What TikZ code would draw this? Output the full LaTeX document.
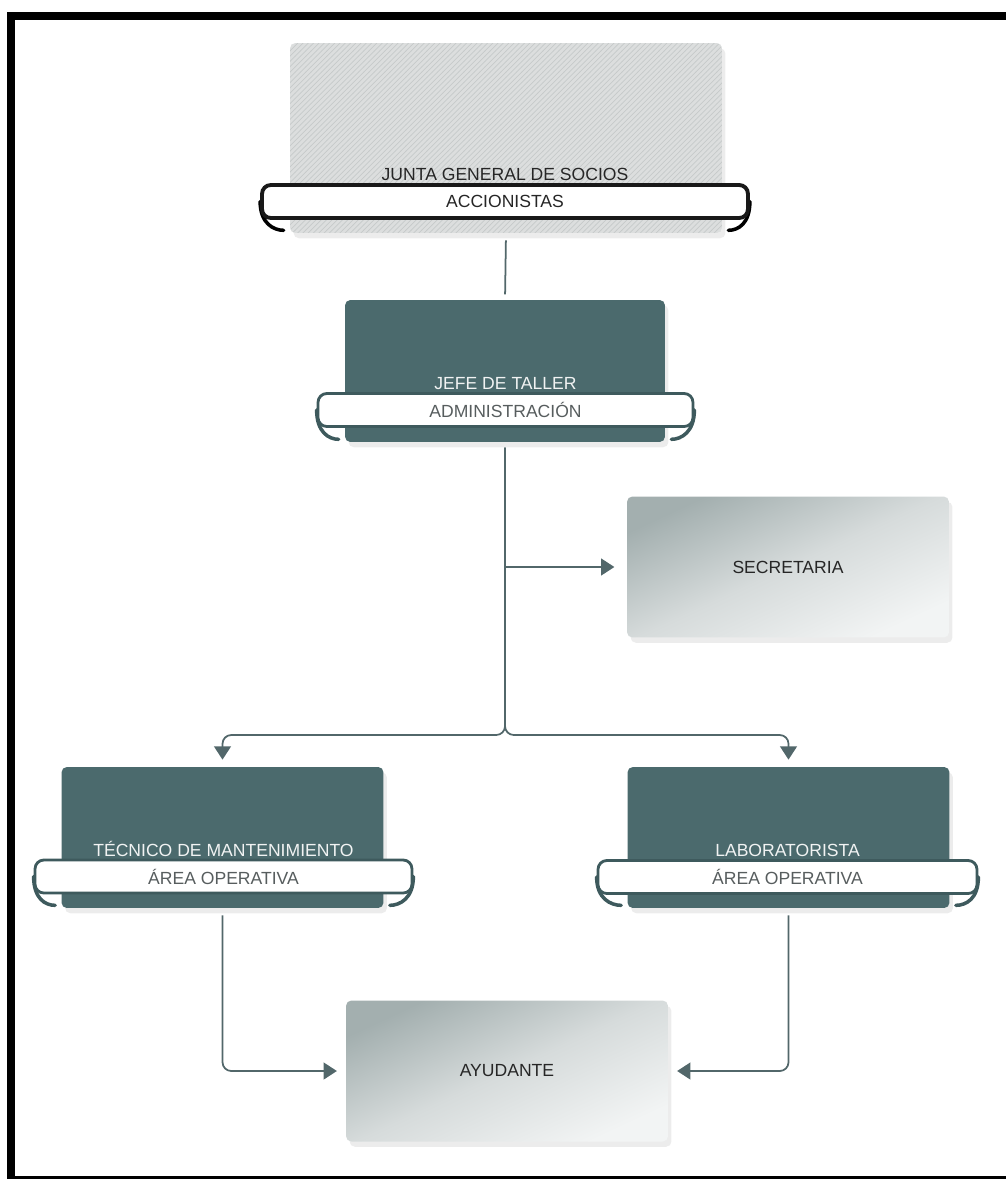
\documentclass[tikz,border=0pt]{standalone}
\usepackage{fontspec}
\setmainfont{Liberation Sans}
\usetikzlibrary{positioning,arrows.meta,shadows,patterns,backgrounds}
\definecolor{tealbox}{HTML}{4B6A6D}
\definecolor{tealdark}{HTML}{3E5A5D}
\definecolor{linec}{HTML}{52676A}
\definecolor{hatchbg}{HTML}{DCDEDE}
\definecolor{hatchfg}{HTML}{C6CACA}
\definecolor{shadeA}{HTML}{A3AFAF}
\definecolor{shadeM}{HTML}{D6DBDB}
\definecolor{shadeB}{HTML}{F2F4F4}
\definecolor{ribtext}{HTML}{575D5E}
\tikzset{
	box/.style={rounded corners=3pt, minimum width=6.44cm, minimum height=2.82cm,
		drop shadow={shadow xshift=2pt, shadow yshift=-3pt, opacity=0.15, fill=gray}},
	darkbox/.style={box, fill=tealbox},
	gradbox/.style={box, top color=shadeA, bottom color=shadeB, middle color=shadeM, shading angle=25,
		font=\fontsize{10}{12}\selectfont, text=black!85},
	hatchbox/.style={box, minimum width=8.64cm, minimum height=3.8cm, fill=hatchbg,
		postaction={pattern=north east lines, pattern color=hatchfg}},
	ribbon/.style={draw=tealdark, line width=1.6pt, fill=white, rounded corners=5pt,
		minimum height=0.66cm, inner sep=0pt, text=ribtext, font=\fontsize{10}{12}\selectfont},
	boxtitle/.style={inner sep=1pt, text=white!92!tealbox, font=\fontsize{10}{12}\selectfont},
	curl/.style={line width=2pt, line cap=round},
	conn/.style={draw=linec, line width=1pt},
	arr/.style={-{Triangle[width=9.5pt,length=7.5pt]}, linec}
}
\begin{document}
\begin{tikzpicture}[x=0.02cm, y=-0.02cm]
	\useasboundingbox (0,0) rectangle (1006,1179);
	% frame
	\fill (7,12) rectangle (1006,20);
	\fill (7,12) rectangle (15,1179);
	\fill (15,1176) rectangle (1006,1179);
	% boxes
	\node[hatchbox] (junta) at (506,138) {};
	\node[darkbox, minimum width=6.4cm, minimum height=2.84cm] (jefe) at (505,371) {};
	\node[gradbox] (secre) at (788,567) {SECRETARIA};
	\node[darkbox] (tecnico) at (222.5,837.5) {};
	\node[darkbox] (labo) at (788.5,837.5) {};
	\node[gradbox] (ayud) at (507,1071) {AYUDANTE};
	% ribbons
	\node[ribbon, draw=black!90, line width=2.2pt, minimum width=9.72cm, text=black!85] (juntar) at (505,201.5) {ACCIONISTAS};
	\node[ribbon, minimum width=7.5cm] (jefer) at (505.5,410) {ADMINISTRACIÓN};
	\node[ribbon, minimum width=7.54cm] (tecnicor) at (223.5,876.5) {ÁREA OPERATIVA};
	\node[ribbon, minimum width=7.58cm] (labor) at (787.5,877) {ÁREA OPERATIVA};
	\node[boxtitle, text=black!85, above=0pt of juntar] {JUNTA GENERAL DE SOCIOS};
	\node[boxtitle, above=0pt of jefer] {JEFE DE TALLER};
	\node[boxtitle, above=0pt of tecnicor] {TÉCNICO DE MANTENIMIENTO};
	\node[boxtitle, above=0pt of labor] {LABORATORISTA};
	% ribbon ends
	\begin{scope}[on background layer]
	\foreach \r/\b/\c in {juntar/junta/black, jefer/jefe/tealdark, tecnicor/tecnico/tealdark, labor/labo/tealdark}{
		\draw[curl, \c] (\r.west) .. controls +(0,22) and +(-10,0) .. ([shift={(-6,-3)}]\b.south west);
		\draw[curl, \c] (\r.east) .. controls +(0,22) and +(10,0) .. ([shift={(6,-3)}]\b.south east);
	}
	\end{scope}
	% connectors
	\coordinate (split) at (505,735);
	\draw[conn, shorten <=4pt, shorten >=3pt] (junta.south) -- (jefe.north);
	\draw[conn, arr, rounded corners=5pt, shorten <=3pt, shorten >=4pt] (jefe.south) -- (split) -| (tecnico.north);
	\draw[conn, arr, rounded corners=5pt, shorten <=3pt, shorten >=4pt] (jefe.south) -- (split) -| (labo.north);
	\draw[conn, arr, shorten >=7pt] (jefe.south |- secre.west) -- (secre.west);
	\draw[conn, arr, rounded corners=5pt, shorten <=4pt, shorten >=5pt] (tecnico.south) |- (ayud.west);
	\draw[conn, arr, rounded corners=5pt, shorten <=4pt, shorten >=5pt] (labo.south) |- (ayud.east);
\end{tikzpicture}
\end{document}
